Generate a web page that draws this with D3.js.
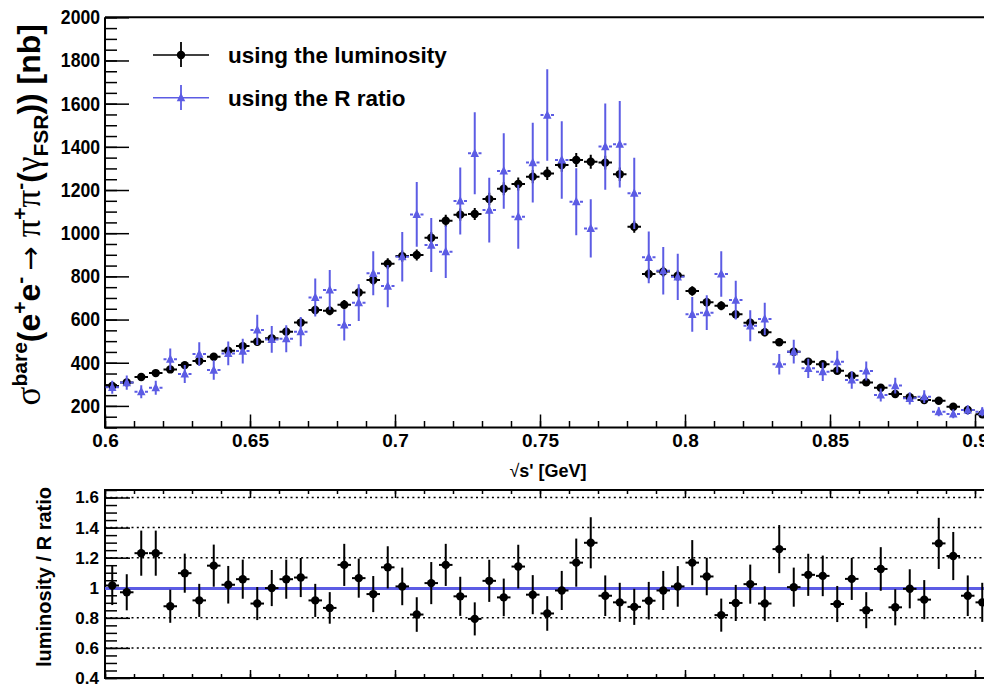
<!DOCTYPE html>
<html><head><meta charset="utf-8">
<script src="https://cdnjs.cloudflare.com/ajax/libs/d3/7.8.5/d3.min.js"></script>
<style>
body{margin:0;background:#fff;}
svg{display:block;font-family:"Liberation Sans",Arial,Helvetica,sans-serif;font-weight:bold;}
</style>
</head><body>
<svg id="c" width="984" height="685"></svg>
<script>
// ---------------- DATA ----------------
const binCenters = [0.6025,0.6075,0.6125,0.6175,0.6225,0.6275,0.6325,0.6375,0.6425,0.6475,
  0.6525,0.6575,0.6625,0.6675,0.6725,0.6775,0.6825,0.6875,0.6925,0.6975,
  0.7025,0.7075,0.7125,0.7175,0.7225,0.7275,0.7325,0.7375,0.7425,0.7475,
  0.7525,0.7575,0.7625,0.7675,0.7725,0.7775,0.7825,0.7875,0.7925,0.7975,
  0.8025,0.8075,0.8125,0.8175,0.8225,0.8275,0.8325,0.8375,0.8425,0.8475,
  0.8525,0.8575,0.8625,0.8675,0.8725,0.8775,0.8825,0.8875,0.8925,0.8975,0.9025];
const binHalfWidth = 0.0025;

const lumValues = [292,309,334,352,369,389,408,428,456,477,
  497,513,544,586,644,641,669,725,783,859,
  894,899,979,1058,1086,1089,1158,1206,1228,1262,
  1277,1316,1339,1331,1327,1273,1030,811,822,803,
  732,680,664,624,585,541,495,451,405,393,
  363,340,309,284,255,240,227,224,196,181,161];
const lumErrors = [11,11,12,12,13,13,14,14,15,16,
  17,18,19,20,21,21,22,23,24,25,
  26,26,27,28,28,28,29,30,30,31,
  31,31,32,32,32,31,28,24,24,24,
  22,21,21,20,19,18,17,16,15,15,
  14,13,12,12,11,11,10,10,9,9,9];

const rRatioValues = [286,308,266,284,416,348,440,366,443,454,
  552,508,511,544,702,737,575,678,814,755,
  891,1087,945,914,1149,1370,1107,1288,1076,1327,
  1547,1339,1146,1022,1401,1412,1185,888,826,798,
  624,632,811,690,571,603,393,451,374,358,
  405,320,362,251,294,235,243,173,163,181,173];
const rRatioErrors = [30,33,30,32,50,42,55,45,55,57,
  70,62,63,68,88,92,72,85,102,98,
  115,150,125,122,155,190,150,175,148,185,
  212,180,155,135,200,200,165,120,110,107,
  80,80,105,90,72,75,48,55,45,43,
  50,40,44,30,36,28,29,21,20,22,21];

const ratioValues = [1.015,0.970,1.230,1.230,0.877,1.097,0.916,1.147,1.020,1.057,
  0.895,0.998,1.057,1.068,0.916,0.866,1.152,1.064,0.958,1.136,
  1.009,0.822,1.031,1.152,0.943,0.793,1.046,0.936,1.141,0.954,
  0.829,0.982,1.167,1.299,0.947,0.903,0.873,0.914,0.982,1.009,
  1.167,1.075,0.818,0.899,1.024,0.895,1.257,1.004,1.086,1.079,
  0.892,1.059,0.851,1.125,0.870,0.993,0.921,1.295,1.211,0.947,0.903];
const ratioErrors = [0.13,0.12,0.15,0.15,0.11,0.13,0.11,0.14,0.125,0.13,
  0.11,0.12,0.13,0.13,0.11,0.105,0.14,0.13,0.12,0.14,
  0.125,0.115,0.14,0.14,0.13,0.11,0.14,0.125,0.145,0.13,
  0.115,0.13,0.16,0.17,0.135,0.13,0.12,0.125,0.13,0.135,
  0.15,0.125,0.11,0.12,0.13,0.115,0.16,0.13,0.14,0.135,
  0.12,0.14,0.12,0.145,0.12,0.13,0.13,0.17,0.16,0.135,0.13];
const fitLevel = [0.995];

const xMajorTicks = [0.6,0.65,0.7,0.75,0.8,0.85,0.9];
const xTickLabels = ["0.6","0.65","0.7","0.75","0.8","0.85","0.9"];
const yTopMajorTicks = [200,400,600,800,1000,1200,1400,1600,1800,2000];
const yTopTickLabels = ["200","400","600","800","1000","1200","1400","1600","1800","2000"];
const yBotMajorTicks = [0.4,0.6,0.8,1.0,1.2,1.4,1.6];
const yBotTickLabels = ["0.4","0.6","0.8","1","1.2","1.4","1.6"];
const gridLevels = [0.6,0.8,1.0,1.2,1.4,1.6];
const legendLabels = ["using the luminosity","using the R ratio"];

// ---------------- STYLE ----------------
const BLUE = "#5c5ce4";
const svg = d3.select("#c");
const x = d3.scaleLinear().domain([0.6, 0.91]).range([105, 1004]);
const yTop = d3.scaleLinear().domain([100, 2000]).range([427.5, 17.3]);
const yBot = d3.scaleLinear().domain([0.4, 1.65]).range([678, 490]);

const defs = svg.append("defs");
defs.append("clipPath").attr("id","clipTop").append("rect")
  .attr("x",105).attr("y",17.3).attr("width",900).attr("height",410.2);
defs.append("clipPath").attr("id","clipBot").append("rect")
  .attr("x",105).attr("y",490).attr("width",900).attr("height",188);

function scaleText(sel, sx){
  sel.each(function(){
    const t=d3.select(this);
    const tx=+t.attr("x")||0;
    t.attr("transform",`translate(${tx},0) scale(${sx},1) translate(${-tx},0)`);
  });
}

// ---------- TOP PANEL AXES ----------
const xMinor = d3.range(0.6, 0.9101, 0.01).map(v=>+v.toFixed(3));
const gTopX = svg.append("g").attr("transform","translate(0,427.5)");
gTopX.call(d3.axisBottom(x).tickValues(xMinor).tickSize(-6.5).tickFormat(""));
gTopX.call(g=>g.select(".domain").remove());
const gTopXM = svg.append("g").attr("transform","translate(0,427.5)");
gTopXM.call(d3.axisBottom(x).tickValues(xMajorTicks).tickSize(-13).tickPadding(6.5)
   .tickFormat((d,i)=>xTickLabels[i]));
gTopXM.select(".domain").remove();
gTopXM.selectAll("text").attr("font-size",19).attr("font-family",null).attr("fill","#000");
gTopXM.selectAll("line,path").attr("stroke","#000").attr("stroke-width",1.5);
gTopX.selectAll("line").attr("stroke","#000").attr("stroke-width",1.5);

const yTopMinor = d3.range(100, 2001, 50);
const gTopY = svg.append("g").attr("transform","translate(105,0)");
gTopY.call(d3.axisLeft(yTop).tickValues(yTopMinor).tickSize(-12).tickFormat(""));
gTopY.select(".domain").remove();
gTopY.selectAll("line").attr("stroke","#000").attr("stroke-width",1.5);
const gTopYM = svg.append("g").attr("transform","translate(105,0)");
gTopYM.call(d3.axisLeft(yTop).tickValues(yTopMajorTicks).tickSize(-24).tickPadding(5)
   .tickFormat((d,i)=>yTopTickLabels[i]));
gTopYM.select(".domain").remove();
gTopYM.selectAll("line").attr("stroke","#000").attr("stroke-width",1.5);
gTopYM.selectAll("text").attr("font-size",20).attr("font-family",null).attr("fill","#000");
scaleText(gTopYM.selectAll("text"),0.88);

// frame
svg.append("path").attr("d",`M105,17.3H984M105,17.3V427.5H984`)
  .attr("fill","none").attr("stroke","#000").attr("stroke-width",2);

// ---------- TOP PANEL DATA ----------
const dataTop = svg.append("g").attr("clip-path","url(#clipTop)");
const rows = binCenters.map((c,i)=>({c, lum:lumValues[i], le:lumErrors[i], rr:rRatioValues[i], re:rRatioErrors[i], ra:ratioValues[i], rae:ratioErrors[i]}));

// luminosity (black)
const gLum = dataTop.append("g");
gLum.selectAll("line.h").data(rows).join("line").attr("class","h")
  .attr("x1",d=>x(d.c-binHalfWidth)+0.5).attr("x2",d=>x(d.c+binHalfWidth)-0.5)
  .attr("y1",d=>yTop(d.lum)).attr("y2",d=>yTop(d.lum))
  .attr("stroke","#000").attr("stroke-width",2);
gLum.selectAll("line.v").data(rows).join("line").attr("class","v")
  .attr("x1",d=>x(d.c)).attr("x2",d=>x(d.c))
  .attr("y1",d=>yTop(d.lum-d.le)).attr("y2",d=>yTop(d.lum+d.le))
  .attr("stroke","#000").attr("stroke-width",2);
gLum.selectAll("circle").data(rows).join("circle")
  .attr("cx",d=>x(d.c)).attr("cy",d=>yTop(d.lum)).attr("r",4.2).attr("fill","#000");

// R ratio (blue)
const tri = (cx,cy,s)=>`M${cx},${cy-s*0.58}L${cx+s/2},${cy+s*0.42}L${cx-s/2},${cy+s*0.42}Z`;
const gR = dataTop.append("g");
gR.selectAll("line.hl").data(rows).join("line").attr("class","hl")
  .attr("x1",d=>x(d.c-binHalfWidth)+0.5).attr("x2",d=>x(d.c))
  .attr("y1",d=>yTop(d.rr)).attr("y2",d=>yTop(d.rr))
  .attr("stroke",BLUE).attr("stroke-width",2).attr("stroke-dasharray","3,1.6,20");
gR.selectAll("line.hr").data(rows).join("line").attr("class","hr")
  .attr("x1",d=>x(d.c+binHalfWidth)-0.5).attr("x2",d=>x(d.c))
  .attr("y1",d=>yTop(d.rr)).attr("y2",d=>yTop(d.rr))
  .attr("stroke",BLUE).attr("stroke-width",2).attr("stroke-dasharray","3,1.6,20");
gR.selectAll("line.v").data(rows).join("line").attr("class","v")
  .attr("x1",d=>x(d.c)).attr("x2",d=>x(d.c))
  .attr("y1",d=>yTop(d.rr-d.re)).attr("y2",d=>yTop(d.rr+d.re))
  .attr("stroke",BLUE).attr("stroke-width",2);
gR.selectAll("path").data(rows).join("path")
  .attr("d",d=>tri(x(d.c),yTop(d.rr),8.5)).attr("fill",BLUE);

// ---------- LEGEND ----------
const leg = svg.append("g");
leg.append("line").attr("x1",153).attr("x2",209).attr("y1",55).attr("y2",55).attr("stroke","#000").attr("stroke-width",1.5);
leg.append("line").attr("x1",181).attr("x2",181).attr("y1",42).attr("y2",67).attr("stroke","#000").attr("stroke-width",1.8);
leg.append("circle").attr("cx",181).attr("cy",55).attr("r",4.2).attr("fill","#000");
leg.append("line").attr("x1",153).attr("x2",209).attr("y1",97.7).attr("y2",97.7).attr("stroke",BLUE).attr("stroke-width",1.5);
leg.append("line").attr("x1",181).attr("x2",181).attr("y1",85).attr("y2",110).attr("stroke",BLUE).attr("stroke-width",1.8);
leg.append("path").attr("d",tri(181,97.7,8.5)).attr("fill",BLUE);
leg.selectAll("text").data(legendLabels).join("text")
  .attr("x",228).attr("y",(d,i)=>[62.5,105.5][i]).attr("font-size",22.5).text(d=>d);

// ---------- TITLES ----------
const GREEK = "Liberation Serif, DejaVu Serif, serif";
const yt = svg.append("text").attr("transform","translate(40,24) rotate(-90)")
  .attr("text-anchor","end").attr("font-size",32);
yt.append("tspan").attr("font-weight","normal").attr("font-family",GREEK).attr("font-size",35).text("σ");
yt.append("tspan").attr("font-size",21).attr("dy",-13).text("bare");
yt.append("tspan").attr("dy",13).text("(e");
yt.append("tspan").attr("font-size",21).attr("dy",-13).text("+");
yt.append("tspan").attr("dy",13).text("e");
yt.append("tspan").attr("font-size",21).attr("dy",-13).text("-");
yt.append("tspan").attr("dy",13).attr("font-weight","normal").attr("font-family","DejaVu Sans").attr("font-size",29).text("\u2009\u2192 ");
yt.append("tspan").attr("font-weight","normal").attr("font-family",GREEK).attr("font-size",35).text("π");
yt.append("tspan").attr("font-size",21).attr("dy",-13).text("+");
yt.append("tspan").attr("dy",13).attr("font-weight","normal").attr("font-family",GREEK).attr("font-size",35).text("π");
yt.append("tspan").attr("font-size",21).attr("dy",-13).text("-");
yt.append("tspan").attr("dy",13).text("(");
yt.append("tspan").attr("font-weight","normal").attr("font-family",GREEK).attr("font-size",35).text("γ");
yt.append("tspan").attr("font-size",21).attr("dy",8).text("FSR");
yt.append("tspan").attr("dy",-8).text(")) [nb]");

const xt = svg.append("text").attr("x",548).attr("y",477).attr("text-anchor","middle").attr("font-size",18);
xt.append("tspan").attr("font-weight","normal").text("\u221A");
xt.append("tspan").text("s' [GeV]");

// ---------- BOTTOM PANEL ----------
const gGrid = svg.append("g");
gGrid.selectAll("line").data(gridLevels).join("line")
  .attr("x1",105).attr("x2",984).attr("y1",d=>yBot(d)).attr("y2",d=>yBot(d))
  .attr("stroke","#000").attr("stroke-width",1.5).attr("stroke-dasharray","2,3.3");

const gBX = svg.append("g").attr("transform","translate(0,678)");
gBX.call(d3.axisBottom(x).tickValues(xMinor).tickSize(-4).tickFormat(""));
gBX.select(".domain").remove();
const gBXM = svg.append("g").attr("transform","translate(0,678)");
gBXM.call(d3.axisBottom(x).tickValues(xMajorTicks).tickSize(-8).tickFormat(""));
gBXM.select(".domain").remove();
const gBT = svg.append("g").attr("transform","translate(0,490)");
gBT.call(d3.axisTop(x).tickValues(xMinor).tickSize(-4).tickFormat(""));
gBT.select(".domain").remove();
const gBTM = svg.append("g").attr("transform","translate(0,490)");
gBTM.call(d3.axisTop(x).tickValues(xMajorTicks).tickSize(-8).tickFormat(""));
gBTM.select(".domain").remove();
[gBX,gBXM,gBT,gBTM].forEach(g=>g.selectAll("line").attr("stroke","#000").attr("stroke-width",1.5));

const yBotMinor = d3.range(0.4, 1.651, 0.05).map(v=>+v.toFixed(2));
const gBY = svg.append("g").attr("transform","translate(105,0)");
gBY.call(d3.axisLeft(yBot).tickValues(yBotMinor).tickSize(-12).tickFormat(""));
gBY.select(".domain").remove();
gBY.selectAll("line").attr("stroke","#000").attr("stroke-width",1.5);
const gBYM = svg.append("g").attr("transform","translate(105,0)");
gBYM.call(d3.axisLeft(yBot).tickValues(yBotMajorTicks).tickSize(-25).tickPadding(6)
  .tickFormat((d,i)=>yBotTickLabels[i]));
gBYM.select(".domain").remove();
gBYM.selectAll("line").attr("stroke","#000").attr("stroke-width",1.5);
gBYM.selectAll("text").attr("font-size",17).attr("font-family",null).attr("fill","#000");

svg.append("path").attr("d",`M984,490H105V678H984`).attr("fill","none").attr("stroke","#000").attr("stroke-width",2);

const dataBot = svg.append("g").attr("clip-path","url(#clipBot)");
dataBot.selectAll("line.fit").data(fitLevel).join("line").attr("class","fit")
  .attr("x1",105).attr("x2",1004).attr("y1",d=>yBot(d)).attr("y2",d=>yBot(d))
  .attr("stroke",BLUE).attr("stroke-width",3);
dataBot.selectAll("line.h").data(rows).join("line").attr("class","h")
  .attr("x1",d=>x(d.c-binHalfWidth)+0.5).attr("x2",d=>x(d.c+binHalfWidth)-0.5)
  .attr("y1",d=>yBot(d.ra)).attr("y2",d=>yBot(d.ra))
  .attr("stroke","#000").attr("stroke-width",2);
dataBot.selectAll("line.v").data(rows).join("line").attr("class","v")
  .attr("x1",d=>x(d.c)).attr("x2",d=>x(d.c))
  .attr("y1",d=>yBot(d.ra-d.rae)).attr("y2",d=>yBot(d.ra+d.rae))
  .attr("stroke","#000").attr("stroke-width",2);
dataBot.selectAll("circle").data(rows).join("circle")
  .attr("cx",d=>x(d.c)).attr("cy",d=>yBot(d.ra)).attr("r",4.2).attr("fill","#000");

svg.append("text").attr("transform","translate(51,487) rotate(-90)")
  .attr("text-anchor","end").attr("font-size",20).text("luminosity / R ratio");
</script>
</body></html>
